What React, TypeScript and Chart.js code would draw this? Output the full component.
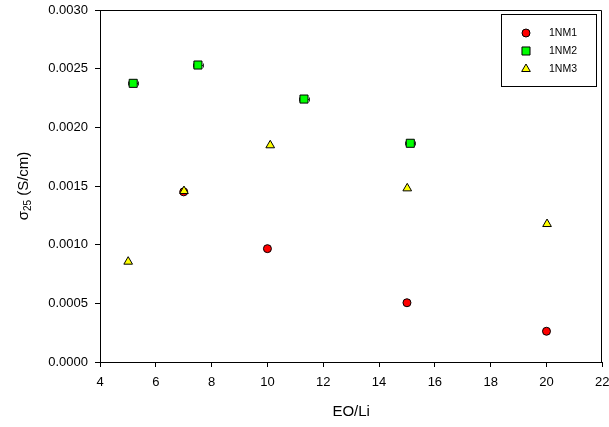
import React, { useEffect, useRef } from 'react';
import { Chart, registerables } from 'chart.js';

Chart.register(...registerables);

const FONT = '"Liberation Sans", Arial, sans-serif';

const seriesNames = ['1NM1', '1NM2', '1NM3'];
const nm1X = [7, 10, 15, 20];
const nm1Y = [0.00145, 0.000966, 0.000505, 0.000262];
const nm2X = [5.19, 7.51, 11.31, 15.12];
const nm2Y = [0.002375, 0.002531, 0.002241, 0.001864];
const nm2XErr = [0.18, 0.18, 0.18, 0.18];
const nm3X = [5.01, 7.01, 10.1, 15.01, 20.02];
const nm3Y = [0.000855, 0.001457, 0.001847, 0.00148, 0.001176];

const xMin = 4, xMax = 22, xStep = 2;
const yMin = 0, yMax = 0.003, yStep = 0.0005;
const xTitle = 'EO/Li';
const yTitleMain = 'σ';
const yTitleSub = '25';
const yTitleRest = ' (S/cm)';

const toPts = (xs: number[], ys: number[]) => xs.map((x, i) => ({ x, y: ys[i] }));

function drawMarker(ctx: CanvasRenderingContext2D, style: string, x: number, y: number, r: number) {
  ctx.beginPath();
  if (style === 'circle') {
    ctx.arc(x, y, r, 0, Math.PI * 2);
  } else if (style === 'rect') {
    const s = Math.SQRT1_2 * r;
    ctx.rect(x - s, y - s, 2 * s, 2 * s);
  } else {
    const a = Math.PI / 2;
    ctx.moveTo(x + Math.cos(-a) * r, y + Math.sin(-a) * r);
    ctx.lineTo(x + Math.cos(-a + 2 * Math.PI / 3) * r, y + Math.sin(-a + 2 * Math.PI / 3) * r);
    ctx.lineTo(x + Math.cos(-a + 4 * Math.PI / 3) * r, y + Math.sin(-a + 4 * Math.PI / 3) * r);
    ctx.closePath();
  }
  ctx.fill();
  ctx.stroke();
}

const errorBarPlugin = {
  id: 'errorBars',
  beforeDatasetsDraw(chart: any) {
    const ctx = chart.ctx;
    const xs = chart.scales.x;
    const ys = chart.scales.y;
    ctx.save();
    ctx.strokeStyle = '#333';
    ctx.lineWidth = 1;
    nm2X.forEach((x, i) => {
      const y = Math.round(ys.getPixelForValue(nm2Y[i])) + 0.5;
      const x0 = Math.round(xs.getPixelForValue(x - nm2XErr[i])) + 0.5;
      const x1 = Math.round(xs.getPixelForValue(x + nm2XErr[i])) + 0.5;
      ctx.beginPath();
      ctx.moveTo(x0, y); ctx.lineTo(x1, y);
      ctx.moveTo(x0, y - 2); ctx.lineTo(x0, y + 2);
      ctx.moveTo(x1, y - 2); ctx.lineTo(x1, y + 2);
      ctx.stroke();
    });
    ctx.restore();
  },
};

const framePlugin = {
  id: 'frameTitlesLegend',
  afterDraw(chart: any) {
    const ctx = chart.ctx;
    const { left, right, top, bottom } = chart.chartArea;
    ctx.save();
    ctx.strokeStyle = '#000';
    ctx.lineWidth = 1;
    ctx.beginPath();
    ctx.moveTo(left, Math.round(top) + 0.5);
    ctx.lineTo(Math.round(right) - 0.5, Math.round(top) + 0.5);
    ctx.lineTo(Math.round(right) - 0.5, bottom);
    ctx.stroke();

    ctx.fillStyle = '#000';
    ctx.font = `15px ${FONT}`;
    ctx.textAlign = 'center';
    ctx.textBaseline = 'middle';
    ctx.fillText(xTitle, (left + right) / 2, 412);

    ctx.translate(24, (top + bottom) / 2);
    ctx.rotate(-Math.PI / 2);
    ctx.textAlign = 'left';
    ctx.textBaseline = 'middle';
    const mainFont = `15px ${FONT}`;
    const subFont = `10px ${FONT}`;
    ctx.font = mainFont;
    const w1 = ctx.measureText(yTitleMain).width;
    const w3 = ctx.measureText(yTitleRest).width;
    ctx.font = subFont;
    const w2 = ctx.measureText(yTitleSub).width;
    let cx = -(w1 + w2 + w3) / 2;
    ctx.font = mainFont;
    ctx.fillText(yTitleMain, cx, 0);
    cx += w1;
    ctx.font = subFont;
    ctx.fillText(yTitleSub, cx, 4);
    cx += w2;
    ctx.font = mainFont;
    ctx.fillText(yTitleRest, cx, 0);
    ctx.setTransform(1, 0, 0, 1, 0, 0);

    const lx = 501.5, ly = 14.5, lw = 95, lh = 72;
    ctx.fillStyle = '#fff';
    ctx.fillRect(lx, ly, lw, lh);
    ctx.strokeStyle = '#000';
    ctx.lineWidth = 1;
    ctx.strokeRect(lx, ly, lw, lh);
    chart.data.datasets.forEach((ds: any, i: number) => {
      const my = 33 + i * 18;
      ctx.fillStyle = ds.backgroundColor;
      ctx.strokeStyle = ds.borderColor;
      ctx.lineWidth = 1;
      drawMarker(ctx, ds.pointStyle, 526, my, ds.pointRadius);
      ctx.fillStyle = '#000';
      ctx.font = `10.5px ${FONT}`;
      ctx.textAlign = 'left';
      ctx.textBaseline = 'middle';
      ctx.fillText(ds.label, 549, my);
    });
    ctx.restore();
  },
};

export default function App() {
  const ref = useRef<HTMLCanvasElement | null>(null);
  useEffect(() => {
    if (!ref.current) return;
    const tickFont = { family: FONT, size: 13 };
    const chart = new Chart(ref.current, {
      type: 'scatter',
      data: {
        datasets: [
          { label: seriesNames[0], data: toPts(nm1X, nm1Y), pointStyle: 'circle', pointRadius: 4, backgroundColor: '#FF0000', borderColor: '#000', borderWidth: 1, order: 3 },
          { label: seriesNames[1], data: toPts(nm2X, nm2Y), pointStyle: 'rect', pointRadius: 5.7, backgroundColor: '#00FF00', borderColor: '#000', borderWidth: 1, order: 2 },
          { label: seriesNames[2], data: toPts(nm3X, nm3Y), pointStyle: 'triangle', pointRadius: 5, backgroundColor: '#FFFF00', borderColor: '#000', borderWidth: 1, order: 1 },
        ] as any,
      },
      options: {
        responsive: false,
        animation: false,
        events: [],
        layout: { padding: { top: 10, right: 6.5, left: 0, bottom: 0 } },
        plugins: { legend: { display: false }, tooltip: { enabled: false } },
        scales: {
          x: {
            type: 'linear', min: xMin, max: xMax,
            ticks: { stepSize: xStep, color: '#000', font: tickFont, padding: 8, maxRotation: 0, autoSkip: false },
            grid: { drawOnChartArea: false, drawTicks: true, tickLength: 5, color: '#000' },
            border: { color: '#000', width: 1 },
            afterFit: (s: any) => { s.height = 65; s.paddingLeft = 0; s.paddingRight = 0; },
          },
          y: {
            type: 'linear', min: yMin, max: yMax,
            ticks: { stepSize: yStep, color: '#000', font: tickFont, padding: 7, callback: (v: any) => Number(v).toFixed(4) },
            grid: { drawOnChartArea: false, drawTicks: true, tickLength: 5, color: '#000' },
            border: { color: '#000', width: 1 },
            afterFit: (s: any) => { s.width = 100; s.paddingTop = 0; s.paddingBottom = 0; },
          },
        },
      } as any,
      plugins: [errorBarPlugin, framePlugin],
    });
    return () => chart.destroy();
  }, []);
  return (
    <div style={{ position: 'absolute', left: 0, top: 0, width: 609, height: 427, background: '#fff' }}>
      <canvas ref={ref} width={609} height={427} />
    </div>
  );
}
